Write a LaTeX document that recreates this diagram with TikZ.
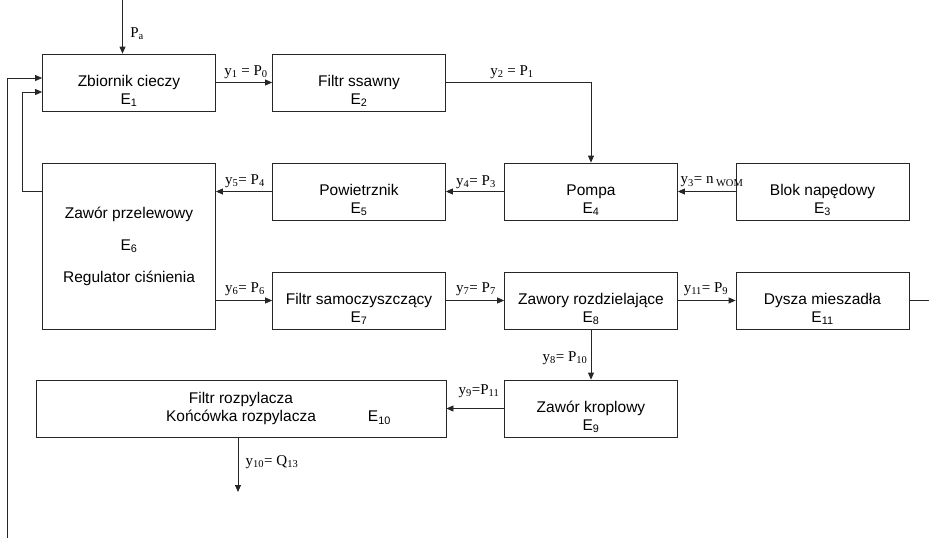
\documentclass[tikz,border=0pt]{standalone}
\usepackage{fontspec}
\setmainfont{Liberation Serif}
\newfontfamily\blokfont{Liberation Sans}
\usepackage{tikz}
\usetikzlibrary{arrows.meta}

\newcommand{\gora}{\rule{0pt}{28pt}}

\tikzset{
  blok/.style={draw=black!85, line width=0.8pt, minimum width=173pt,
    minimum height=57pt, align=center, inner sep=0pt,
    font=\blokfont\fontsize{15.5}{18}\selectfont},
  sygnal/.style={inner sep=0pt, font=\fontsize{15}{18}\selectfont},
  lacz/.style={draw=black!85, line width=0.8pt},
}

\begin{document}
\begin{tikzpicture}[x=1pt,y=-1pt,>={Triangle[length=7pt,width=6pt]}]
  \useasboundingbox (0,0) rectangle (929,538);
  % bloki
  \node[blok] (e1) at (129,82.5) {\gora Zbiornik cieczy\\E\textsubscript{1}};
  \node[blok] (e2) at (359,82.5) {\gora Filtr ssawny\\E\textsubscript{2}};
  \node[blok] (e5) at (359,191.5) {\gora Powietrznik\\E\textsubscript{5}};
  \node[blok] (e4) at (591,191.5) {\gora Pompa\\E\textsubscript{4}};
  \node[blok] (e3) at (822.5,191.5) {\gora Blok napędowy\\E\textsubscript{3}};
  \node[blok,minimum height=166pt] (e6) at (129,246)
    {Zawór przelewowy\\[14pt]E\textsubscript{6}\\[14pt]Regulator ciśnienia};
  \node[blok] (e7) at (359,300.5) {\gora Filtr samoczyszczący\\E\textsubscript{7}};
  \node[blok] (e8) at (591,300.5) {\gora Zawory rozdzielające\\E\textsubscript{8}};
  \node[blok] (e11) at (822.5,300.5) {\gora Dysza mieszadła\\E\textsubscript{11}};
  \node[blok] (e9) at (591,408.5) {\gora Zawór kroplowy\\E\textsubscript{9}};
  \node[blok,minimum width=410pt] (e10) at (241,408.5)
    {Filtr rozpylacza\\Końcówka rozpylacza\rlap{\hspace{52pt}E\textsubscript{10}}};
  % punkty swobodne
  \coordinate (pa) at (122.5,0);
  \coordinate (wyj) at (929,300.5);
  \coordinate (q13) at (238,492);
  \coordinate (pow1) at (22,92);
  \coordinate (pow2) at (7,78);
  \coordinate (dol) at (7,538);
  % polaczenia
  \draw[lacz,->] (pa) -- (pa |- e1.north);
  \draw[lacz,->] (e1.east) -- (e2.west);
  \draw[lacz,->] (e2.east) -| (e4.north);
  \draw[lacz,->] (e3.west) -- (e4.east);
  \draw[lacz,->] (e4.west) -- (e5.east);
  \draw[lacz,->] (e5.west) -- (e6.east |- e5.west);
  \draw[lacz,->] (e6.east |- e7.west) -- (e7.west);
  \draw[lacz,->] (e7.east) -- (e8.west);
  \draw[lacz,->] (e8.east) -- (e11.west);
  \draw[lacz] (e11.east) -- (wyj);
  \draw[lacz,->] (e8.south) -- (e9.north);
  \draw[lacz,->] (e9.west) -- (e10.east);
  \draw[lacz,->] (q13 |- e10.south) -- (q13);
  \draw[lacz,->] (e6.west |- e5.west) -| (pow1) -- (pow1 -| e1.west);
  \draw[lacz,->] (dol) -- (pow2) -- (pow2 -| e1.west);
  % opisy sygnalow
  \node[sygnal] (lpa) at (137,34) {P\textsubscript{a}};
  \node[sygnal] (l1) at (246,72) {y\textsubscript{1} = P\textsubscript{0}};
  \node[sygnal] (l2) at (512,72) {y\textsubscript{2} = P\textsubscript{1}};
  \node[sygnal] (l3) at (712,182) {y\textsubscript{3}= n\,\textsubscript{WOM}};
  \node[sygnal] (l4) at (476,182) {y\textsubscript{4}= P\textsubscript{3}};
  \node[sygnal] (l5) at (245,181) {y\textsubscript{5}= P\textsubscript{4}};
  \node[sygnal] (l6) at (245,289) {y\textsubscript{6}= P\textsubscript{6}};
  \node[sygnal] (l7) at (476,289) {y\textsubscript{7}= P\textsubscript{7}};
  \node[sygnal] (l11) at (706,289) {y\textsubscript{11}= P\textsubscript{9}};
  \node[sygnal] (l8) at (565,358) {y\textsubscript{8}= P\textsubscript{10}};
  \node[sygnal] (l9) at (479,391) {y\textsubscript{9}=P\textsubscript{11}};
  \node[sygnal] (l10) at (272,462) {y\textsubscript{10}= Q\textsubscript{13}};
\end{tikzpicture}
\end{document}
